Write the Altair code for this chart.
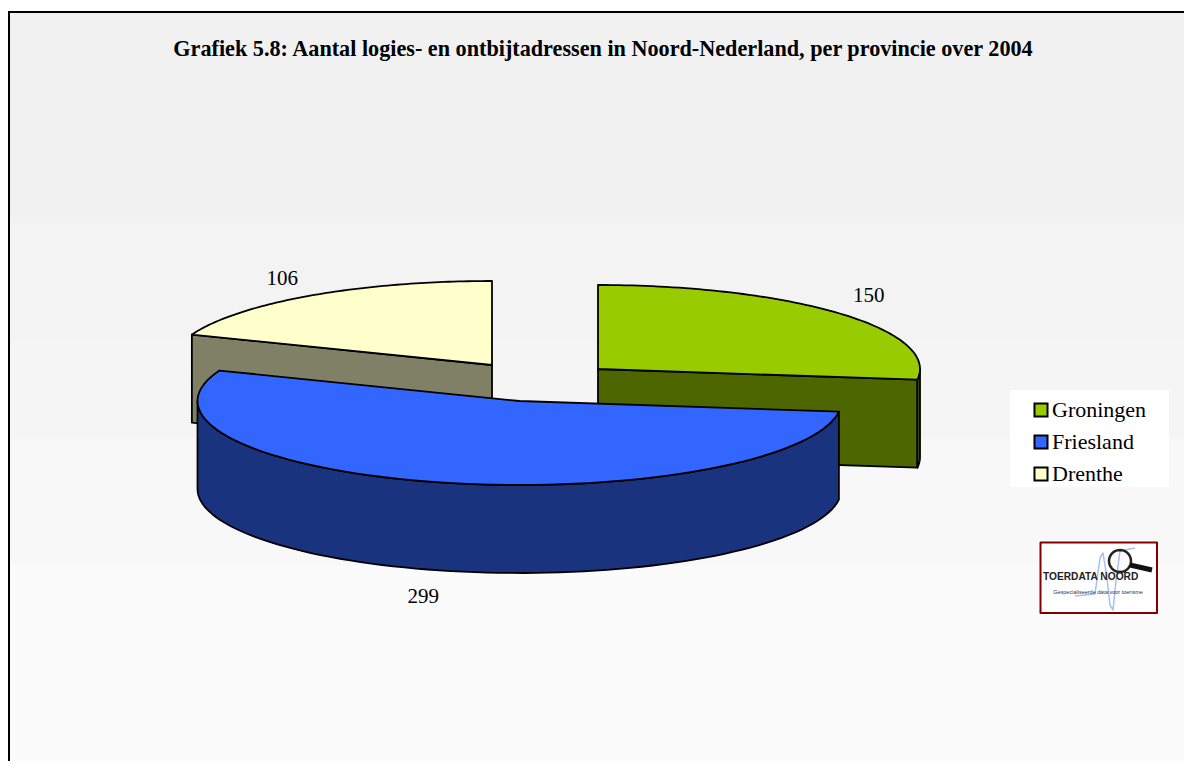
import math
import altair as alt

# ---- data ----
provinces = ["Groningen", "Friesland", "Drenthe"]
values = [150, 299, 106]
top_colors = ["#99CC00", "#3366FF", "#FFFFCC"]
wall_colors = ["#4D6600", "#19337F", "#808066"]
title_text = "Grafiek 5.8: Aantal logies- en ontbijtadressen in Noord-Nederland, per provincie over 2004"

# ---- drawing constants (page pixels) ----
M = 8
W, H = 1176, 753
RX, RY, DEPTH = 322, 84, 88
centers = {"Groningen": (598, 369), "Friesland": (519.5, 401), "Drenthe": (492, 365)}
label_shift = {"Groningen": (29, -18), "Friesland": (-17, 27), "Drenthe": (-28, -17)}
SERIF = "Liberation Serif"

total = sum(values)
spans = {}
acc = 0.0
for p, v in zip(provinces, values):
    a0 = acc / total * 2 * math.pi
    acc += v
    spans[p] = (a0, acc / total * 2 * math.pi)


def pt(x, y):
    return [x - M, y - M]


def rim(p, a, drop=0):
    cx, cy = centers[p]
    return (cx + RX * math.sin(a), cy - RY * math.cos(a) + drop)


def arc(p, a0, a1, drop=0, n=80):
    return [rim(p, a0 + (a1 - a0) * i / n, drop) for i in range(n + 1)]


def poly(points, **props):
    ring = [pt(*q) for q in points]
    ring.append(ring[0])
    return {"type": "Feature", "properties": props, "geometry": {"type": "Polygon", "coordinates": [ring]}}


def line(points, **props):
    return {"type": "Feature", "properties": props,
            "geometry": {"type": "LineString", "coordinates": [pt(*q) for q in points]}}


def rect(x0, y0, x1, y1, **props):
    return poly([(x0, y0), (x1, y0), (x1, y1), (x0, y1)], **props)


PROJ = dict(type="identity", scale=1, translate=[0, 0])


def shape(features, fill="transparent", stroke="transparent", sw=0, **mk):
    return alt.Chart(alt.Data(values=features)).mark_geoshape(
        fill=fill, stroke=stroke, strokeWidth=sw, strokeJoin="round", **mk
    ).project(**PROJ)


def cut_wall(p, a):
    cx, cy = centers[p]
    x, y = rim(p, a)
    return poly([(cx, cy), (x, y), (x, y + DEPTH), (cx, cy + DEPTH)])


layers = []
BOTTOM = M + H
RIGHT = M + W

layers.append(shape([rect(M, M, RIGHT, BOTTOM)], fill="#FFFFFF"))

# banded background
bands = [(13, 218, "#F1F1F1"), (218, 340, "#F3F3F3"), (340, 438, "#F5F5F5"),
         (438, 566, "#F8F8F8"), (566, BOTTOM, "#FBFBFB")]
for y0, y1, c in bands:
    layers.append(shape([rect(10, y0, RIGHT, y1)], fill=c))
layers.append(shape([rect(8, 11, 10, BOTTOM)], fill="#000000"))
layers.append(shape([rect(8, 11, RIGHT, 13)], fill="#000000"))

# legend panel and logo box
layers.append(shape([rect(1010, 390, 1169, 487)], fill="#FFFFFF"))
layers.append(shape([rect(1040.5, 542.5, 1157, 613)], fill="#FFFFFF", stroke="#800000", sw=2))

# walls behind
g_end = spans["Groningen"][1]
d_start = spans["Drenthe"][0]
f0, f1 = spans["Friesland"]
layers.append(shape([cut_wall("Drenthe", d_start)], fill=wall_colors[2], stroke="#000000", sw=1.8))
layers.append(shape([cut_wall("Groningen", g_end)], fill=wall_colors[0], stroke="#000000", sw=1.8))
g_side = arc("Groningen", math.pi / 2, g_end, 0, 10) + arc("Groningen", g_end, math.pi / 2, DEPTH, 10)
layers.append(shape([poly(g_side)], fill=wall_colors[0], stroke="#000000", sw=1.8))

# outer wall of the front slice
f_side = arc("Friesland", f0, 1.5 * math.pi) + arc("Friesland", 1.5 * math.pi, f0, DEPTH)
front_wall = shape([poly(f_side)], fill=wall_colors[1], stroke="#000000", sw=1.8)

fill_enc = alt.Fill(
    "properties.province:N",
    scale=alt.Scale(domain=provinces, range=top_colors),
    legend=alt.Legend(
        title=None, orient="none", legendX=1030 - M, legendY=399 - M, zindex=1,
        symbolType="square", symbolSize=170, symbolStrokeColor="#000000", symbolStrokeWidth=2,
        symbolOpacity=1, labelFont=SERIF, labelFontSize=22, labelColor="#000000",
        labelOffset=0, rowPadding=10, symbolOffset=0, padding=0, values=provinces,
    ),
)


def top_face(p):
    cx, cy = centers[p]
    a0, a1 = spans[p]
    f = poly([(cx, cy)] + arc(p, a0, a1), province=p)
    return alt.Chart(alt.Data(values=[f])).mark_geoshape(
        stroke="#000000", strokeWidth=1.8, strokeJoin="round"
    ).encode(fill=fill_enc).project(**PROJ)


layers.append(top_face("Groningen"))
layers.append(top_face("Drenthe"))
layers.append(front_wall)
layers.append(top_face("Friesland"))

# logo drawing
squiggle = [(1075, 596), (1095, 594), (1100, 558), (1103, 553), (1107, 578), (1110, 605),
            (1113, 610), (1116, 581), (1120, 551), (1135, 548)]
layers.append(shape([line(squiggle)], stroke="#A9BEF2", sw=1.5))
lens = [(1120 + 11 * math.cos(i * math.pi / 18), 561 + 11 * math.sin(i * math.pi / 18)) for i in range(36)]
layers.append(shape([poly(lens)], stroke="#222222", sw=2.5))
layers.append(shape([line([(1130, 565), (1152, 570)])], stroke="#111111", sw=5))

# value labels placed from each slice's mid angle
lab_rows = []
for p, v in zip(provinces, values):
    a0, a1 = spans[p]
    mid = (a0 + a1) / 2
    x, y = rim(p, mid, DEPTH if math.cos(mid) < 0 else 0)
    dx, dy = label_shift[p]
    lab_rows.append({"x": x + dx - M, "y": y + dy - M, "v": v})

labels = alt.Chart(alt.Data(values=lab_rows)).mark_text(
    font=SERIF, fontSize=21, color="#000000", baseline="middle", align="center"
).encode(
    x=alt.X("x:Q", scale=None, axis=None),
    y=alt.Y("y:Q", scale=None, axis=None),
    text=alt.Text("v:Q"),
)
layers.append(labels)

logo_rows = [{"x": 1043 - M, "y": 577 - M, "t": "TOERDATA NOORD"}]
layers.append(alt.Chart(alt.Data(values=logo_rows)).mark_text(
    font="Liberation Sans", fontSize=10.2, fontWeight="bold", color="#222222", align="left", baseline="middle"
).encode(x=alt.X("x:Q", scale=None, axis=None), y=alt.Y("y:Q", scale=None, axis=None), text="t:N"))
layers.append(alt.Chart(alt.Data(values=[{"x": 1098 - M, "y": 592 - M, "t": "Gespecialiseerde data voor toerisme"}])).mark_text(
    font="Liberation Sans", fontSize=5.5, color="#333333", align="center", baseline="middle"
).encode(x=alt.X("x:Q", scale=None, axis=None), y=alt.Y("y:Q", scale=None, axis=None), text="t:N"))

chart = alt.layer(*layers).properties(
    width=W, height=H, padding=0, background="#FFFFFF",
    autosize=alt.AutoSizeParams(type="none"),
    title=alt.TitleParams(
        text=title_text, font=SERIF, fontSize=22.2, fontWeight="bold", color="#000000",
        anchor="middle", dx=7, dy=56, zindex=1,
    ),
).configure_view(stroke=None)

chart.save("out.html", embed_options={"renderer": "svg", "actions": False})
